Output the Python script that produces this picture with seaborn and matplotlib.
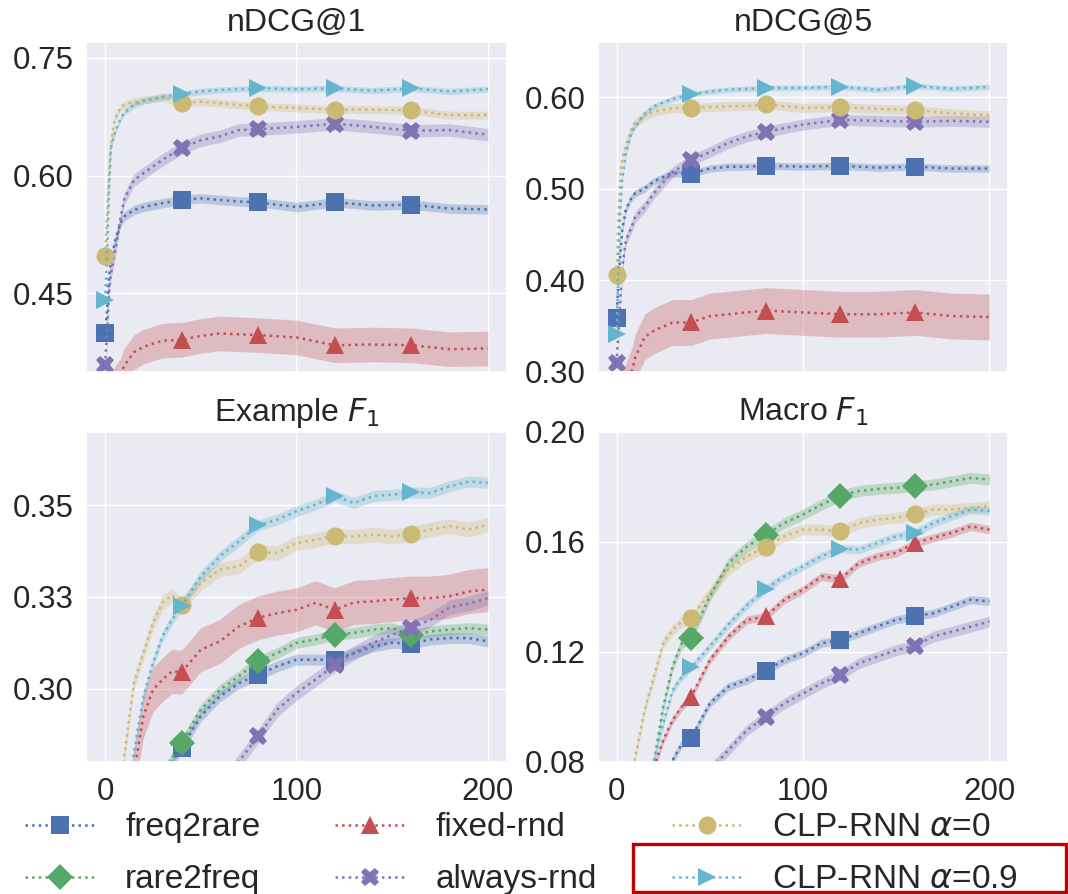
import numpy as np
import seaborn as sns
import matplotlib.pyplot as plt
from matplotlib.patches import Rectangle

# x positions (steps)
x_top = [0, 1, 2, 3, 5, 8, 10, 15, 20, 30, 40, 50, 60, 70, 80, 100, 120, 140, 160, 180, 200]
x_bot = [0, 10, 15, 20, 25, 30, 35, 40, 50, 60, 70, 80, 90, 100, 110, 120, 130, 140, 150, 160, 170, 180, 190, 200]
marker_steps = [0, 40, 80, 120, 160]

labels = ["freq2rare", "rare2freq", "fixed-rnd", "always-rnd",
          r"CLP-RNN $\alpha$=0", r"CLP-RNN $\alpha$=0.9"]
markers = ["s", "D", "^", "X", "o", ">"]

# nDCG@1
n1_freq2rare = [0.399, 0.43, 0.47, 0.49, 0.515, 0.54, 0.548, 0.556, 0.560, 0.565, 0.569, 0.571, 0.569, 0.567, 0.566, 0.560, 0.566, 0.562, 0.563, 0.558, 0.557]
n1_fixed = [0.30, 0.31, 0.32, 0.325, 0.335, 0.345, 0.358, 0.375, 0.382, 0.390, 0.391, 0.396, 0.399, 0.398, 0.397, 0.394, 0.384, 0.385, 0.384, 0.379, 0.380]
n1_always = [0.359, 0.40, 0.45, 0.475, 0.50, 0.545, 0.57, 0.594, 0.603, 0.620, 0.635, 0.645, 0.650, 0.658, 0.659, 0.662, 0.666, 0.662, 0.657, 0.658, 0.652]
n1_clp0 = [0.498, 0.55, 0.60, 0.64, 0.672, 0.686, 0.690, 0.694, 0.696, 0.700, 0.692, 0.694, 0.692, 0.690, 0.688, 0.686, 0.684, 0.684, 0.683, 0.677, 0.677]
n1_clp09 = [0.442, 0.50, 0.58, 0.635, 0.654, 0.672, 0.680, 0.690, 0.695, 0.700, 0.704, 0.707, 0.709, 0.710, 0.711, 0.710, 0.711, 0.708, 0.711, 0.707, 0.710]
n1_band = [0.006, 0.0, 0.022, 0.008, 0.005, 0.004]

# nDCG@5
n5_freq2rare = [0.359, 0.40, 0.429, 0.455, 0.478, 0.490, 0.495, 0.500, 0.508, 0.517, 0.516, 0.522, 0.524, 0.524, 0.525, 0.524, 0.525, 0.523, 0.524, 0.522, 0.522]
n5_fixed = [0.26, 0.265, 0.27, 0.275, 0.285, 0.300, 0.316, 0.338, 0.345, 0.354, 0.354, 0.361, 0.363, 0.365, 0.367, 0.365, 0.363, 0.363, 0.365, 0.361, 0.360]
n5_always = [0.310, 0.345, 0.378, 0.414, 0.444, 0.458, 0.469, 0.480, 0.495, 0.518, 0.531, 0.540, 0.550, 0.557, 0.562, 0.570, 0.575, 0.574, 0.573, 0.574, 0.573]
n5_clp0 = [0.406, 0.469, 0.517, 0.532, 0.548, 0.565, 0.572, 0.579, 0.584, 0.588, 0.588, 0.589, 0.590, 0.590, 0.592, 0.588, 0.589, 0.587, 0.586, 0.582, 0.580]
n5_clp09 = [0.341, 0.414, 0.48, 0.51, 0.539, 0.561, 0.568, 0.582, 0.590, 0.598, 0.603, 0.606, 0.608, 0.609, 0.610, 0.610, 0.611, 0.608, 0.612, 0.609, 0.611]
n5_band = [0.004, 0.0, 0.025, 0.006, 0.005, 0.003]

# Example F1
ef_freq2rare = [0.22, 0.24, 0.25, 0.258, 0.265, 0.274, 0.280, 0.2838, 0.2925, 0.2979, 0.3015, 0.3038, 0.3061, 0.3079, 0.3079, 0.3079, 0.3097, 0.3115, 0.3125, 0.3123, 0.3134, 0.3138, 0.3138, 0.3129]
ef_rare2freq = [0.22, 0.24, 0.25, 0.258, 0.266, 0.277, 0.281, 0.2852, 0.2943, 0.2997, 0.3034, 0.3075, 0.3097, 0.3125, 0.3134, 0.3147, 0.3152, 0.3161, 0.3165, 0.3147, 0.3156, 0.3161, 0.3165, 0.3161]
ef_fixed = [0.22, 0.255, 0.277, 0.2925, 0.2997, 0.3025, 0.3047, 0.3045, 0.3106, 0.3129, 0.3170, 0.3193, 0.3206, 0.3215, 0.3234, 0.3215, 0.3235, 0.3238, 0.3243, 0.3247, 0.3247, 0.3252, 0.3265, 0.3270]
ef_always = [0.20, 0.22, 0.23, 0.24, 0.245, 0.25, 0.255, 0.26, 0.267, 0.273, 0.2802, 0.2870, 0.2943, 0.2988, 0.3025, 0.3065, 0.3097, 0.3125, 0.3147, 0.3165, 0.3188, 0.3222, 0.3232, 0.3247]
ef_clp0 = [0.22, 0.2815, 0.3015, 0.3097, 0.3179, 0.3234, 0.3255, 0.3227, 0.3288, 0.3325, 0.3334, 0.3372, 0.3370, 0.3397, 0.3406, 0.3417, 0.3415, 0.3420, 0.3415, 0.3422, 0.3434, 0.3443, 0.3434, 0.3447]
ef_clp09 = [0.22, 0.265, 0.2825, 0.2979, 0.3070, 0.3143, 0.3188, 0.3226, 0.3306, 0.3361, 0.3402, 0.3445, 0.3461, 0.3484, 0.3502, 0.3525, 0.3506, 0.3525, 0.3529, 0.3535, 0.3534, 0.3552, 0.3565, 0.3561]
ef_band = [0.0015, 0.0015, 0.006, 0.002, 0.002, 0.0015]

# Macro F1
mf_freq2rare = [0.03, 0.045, 0.055, 0.062, 0.070, 0.0806, 0.0867, 0.0888, 0.1013, 0.1074, 0.1098, 0.1131, 0.1171, 0.1195, 0.1232, 0.1244, 0.1268, 0.1293, 0.1317, 0.1329, 0.1341, 0.1365, 0.1390, 0.1384]
mf_rare2freq = [0.03, 0.055, 0.068, 0.080, 0.100, 0.1147, 0.1232, 0.1252, 0.1402, 0.1523, 0.1584, 0.1626, 0.1669, 0.1700, 0.1736, 0.1769, 0.1785, 0.1793, 0.1797, 0.1803, 0.1809, 0.1821, 0.1833, 0.1827]
mf_fixed = [0.03, 0.055, 0.068, 0.078, 0.0879, 0.0952, 0.1001, 0.1037, 0.1171, 0.1256, 0.1317, 0.1329, 0.1390, 0.1426, 0.1475, 0.1465, 0.1523, 0.1548, 0.1560, 0.1596, 0.1615, 0.1633, 0.1657, 0.1645]
mf_always = [0.02, 0.035, 0.042, 0.048, 0.054, 0.060, 0.066, 0.071, 0.077, 0.0843, 0.0916, 0.0964, 0.1013, 0.1049, 0.1086, 0.1116, 0.1159, 0.1183, 0.1207, 0.1222, 0.1256, 0.1274, 0.1292, 0.1311]
mf_clp0 = [0.04, 0.082, 0.0988, 0.1110, 0.1232, 0.1280, 0.1310, 0.1323, 0.1414, 0.1499, 0.1548, 0.1581, 0.1621, 0.1645, 0.1645, 0.1639, 0.1669, 0.1681, 0.1688, 0.1700, 0.1718, 0.1718, 0.1724, 0.1730]
mf_clp09 = [0.03, 0.055, 0.068, 0.0806, 0.094, 0.106, 0.111, 0.1144, 0.122, 0.130, 0.137, 0.1430, 0.1475, 0.1511, 0.1548, 0.1576, 0.1572, 0.1596, 0.1621, 0.1633, 0.1669, 0.1694, 0.1718, 0.1712]
mf_band = [0.0015, 0.002, 0.0015, 0.002, 0.002, 0.0015]

sns.set_theme(style="darkgrid")
plt.rcParams["font.family"] = ["Liberation Sans", "DejaVu Sans"]
colors = sns.color_palette("deep6")

fig = plt.figure(figsize=(10.68, 8.94), dpi=100)

panels = [
    ("nDCG@1", x_top, [n1_freq2rare, None, n1_fixed, n1_always, n1_clp0, n1_clp09], n1_band,
     (0.35, 0.77), [0.45, 0.60, 0.75], ["0.45", "0.60", "0.75"], [0.0805, 0.5839, 0.3942, 0.3691], False),
    ("nDCG@5", x_top, [n5_freq2rare, None, n5_fixed, n5_always, n5_clp0, n5_clp09], n5_band,
     (0.30, 0.66), [0.30, 0.40, 0.50, 0.60], ["0.30", "0.40", "0.50", "0.60"], [0.5599, 0.5839, 0.3839, 0.3691], False),
    (r"Example $F_1$", x_bot, [ef_freq2rare, ef_rare2freq, ef_fixed, ef_always, ef_clp0, ef_clp09], ef_band,
     (0.28, 0.37), [0.30, 0.325, 0.35], ["0.30", "0.33", "0.35"], [0.0805, 0.1477, 0.3942, 0.3691], True),
    (r"Macro $F_1$", x_bot, [mf_freq2rare, mf_rare2freq, mf_fixed, mf_always, mf_clp0, mf_clp09], mf_band,
     (0.08, 0.20), [0.08, 0.12, 0.16, 0.20], ["0.08", "0.12", "0.16", "0.20"], [0.5599, 0.1477, 0.3839, 0.3691], True),
]

handles = {}
for title, xs, series, bands, ylim, yticks, ylabels, pos, show_x in panels:
    ax = fig.add_axes(pos)
    xs_arr = np.array(xs)
    every = [xs.index(s) for s in marker_steps]
    for i, ys in enumerate(series):
        if ys is None:
            continue
        ys_arr = np.array(ys)
        ax.fill_between(xs_arr, ys_arr - bands[i], ys_arr + bands[i],
                        color=colors[i], alpha=0.3, lw=0)
        sns.lineplot(x=xs_arr, y=ys_arr, ax=ax, color=colors[i], linestyle=":",
                     lw=1.8, marker=markers[i], markevery=every, markersize=13,
                     markeredgewidth=0, label=labels[i], legend=False)
    for ln in ax.get_lines():
        handles.setdefault(ln.get_label(), ln)
    ax.set_xlim(-10, 210)
    ax.set_ylim(*ylim)
    ax.set_xticks([0, 100, 200])
    ax.set_yticks(yticks, labels=ylabels)
    ax.tick_params(labelsize=22.5, labelbottom=show_x)
    ax.tick_params(axis="y", pad=3)
    ax.tick_params(axis="x", pad=5)
    ax.set_title(title, fontsize=23, pad=8)
    ax.set_xlabel("")
    ax.set_ylabel("")

order = [handles[l] for l in labels]
fig.legend(order, labels, ncol=3, loc="upper left", bbox_to_anchor=(0.008, 0.110),
           frameon=False, fontsize=24, handlelength=2.1, handletextpad=0.9,
           columnspacing=2.25, labelspacing=0.63, borderpad=0, numpoints=1)

fig.patches.append(Rectangle((633 / 1068, 0.002), 433 / 1068, 0.054, transform=fig.transFigure,
                             fill=False, edgecolor="#C00000", lw=2.4))

fig.savefig("out.png", dpi=100)
